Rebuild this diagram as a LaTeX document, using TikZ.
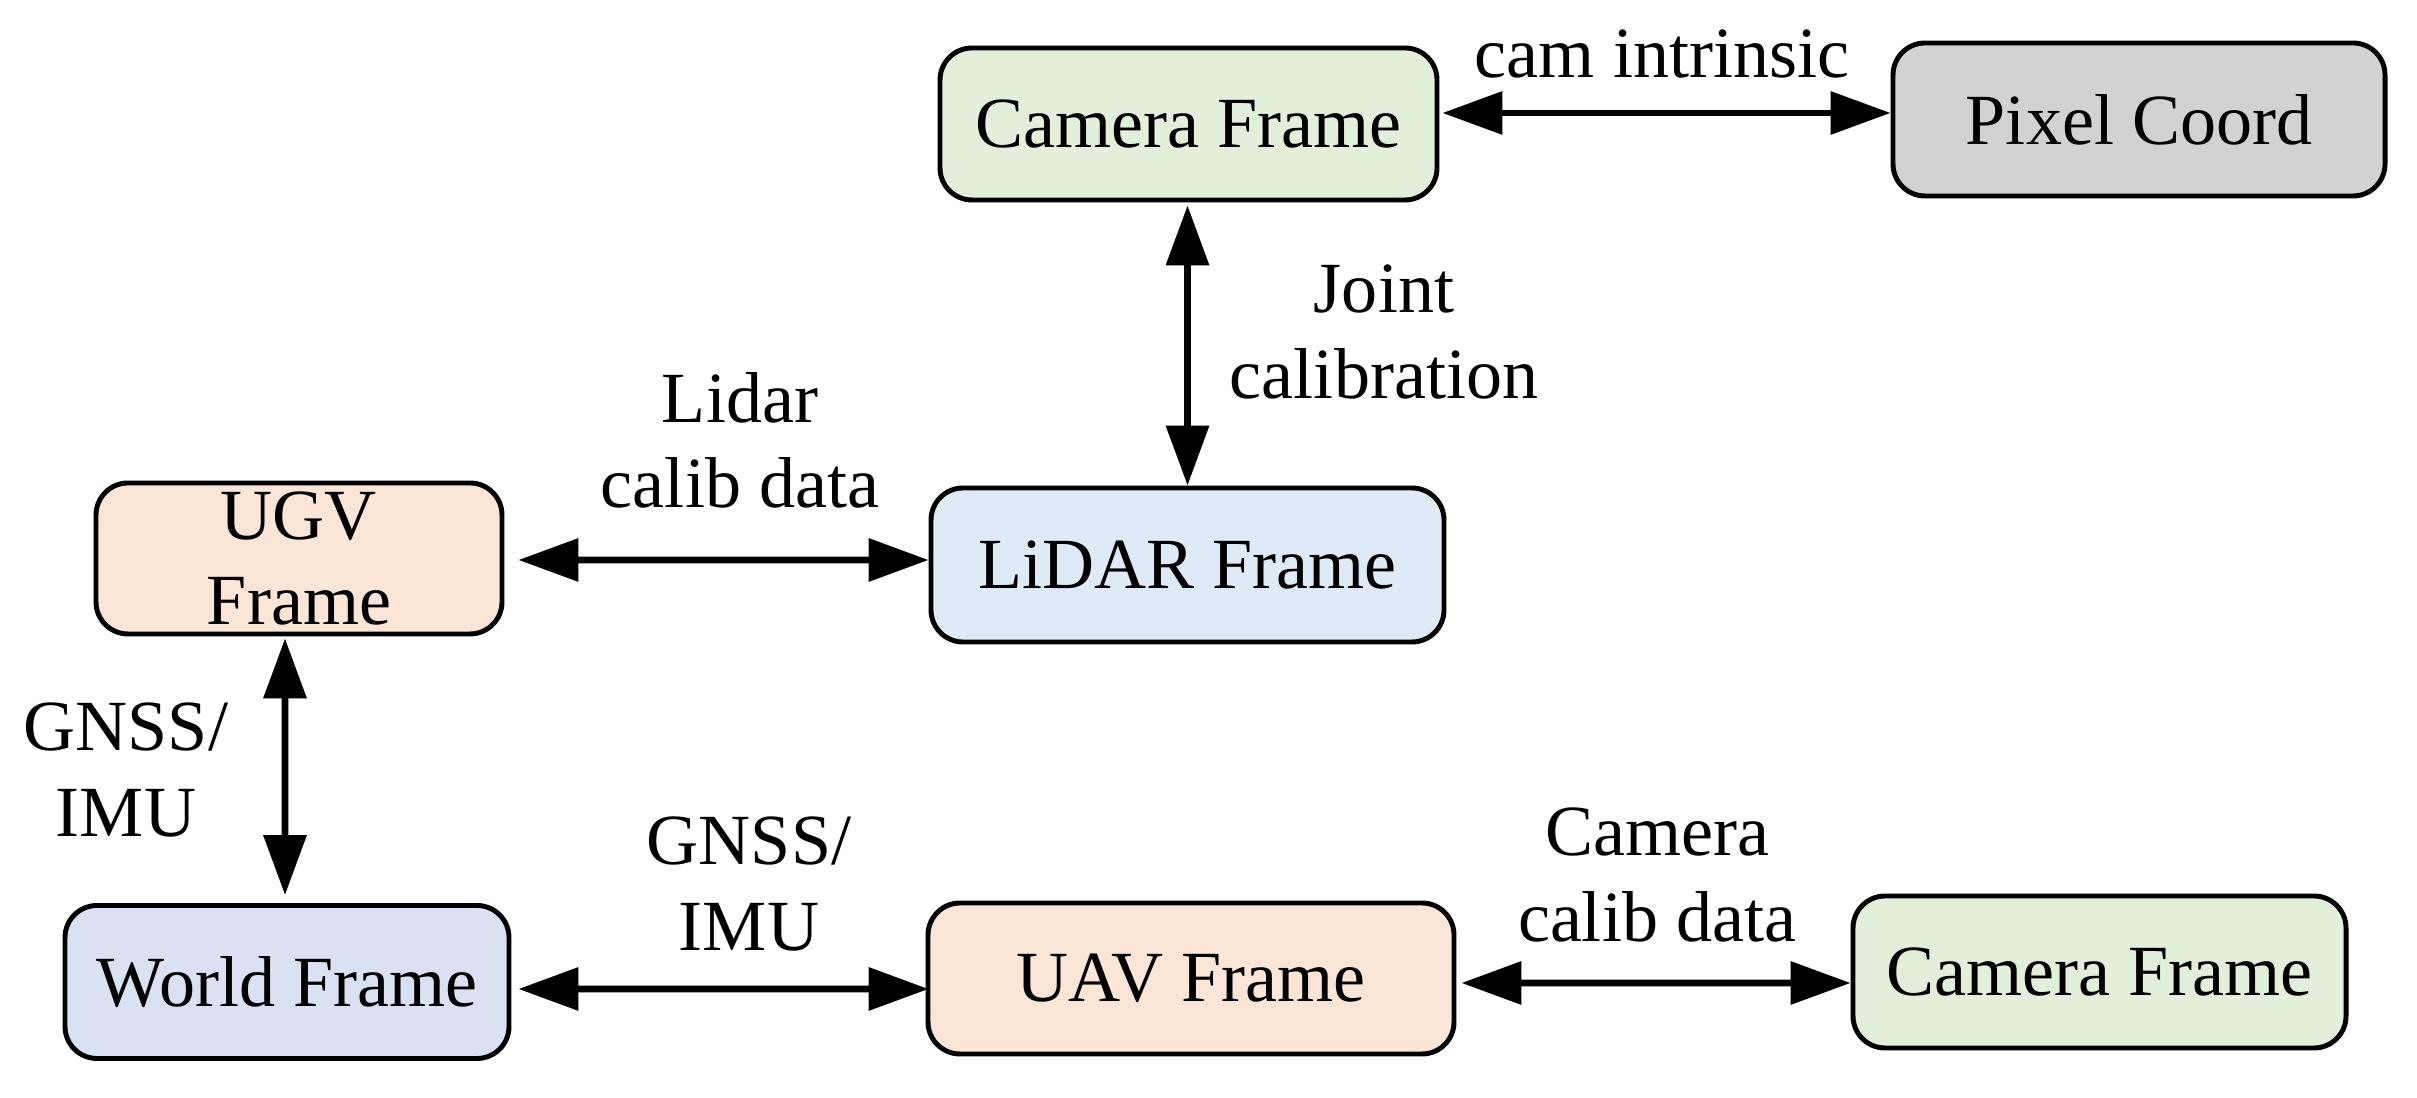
\documentclass[tikz,border=0pt]{standalone}
\usepackage{fontspec}
\setmainfont{Liberation Serif}
\usetikzlibrary{arrows.meta}
\definecolor{cgreen}{HTML}{E2EFDA}
\definecolor{cgray}{HTML}{D2D2D2}
\definecolor{cpeach}{HTML}{FBE5D6}
\definecolor{cblue}{HTML}{DEEBF7}
\definecolor{clav}{HTML}{DAE1F3}
\begin{document}
\begin{tikzpicture}[
  box/.style={draw=black, line width=1.4pt, rounded corners=0.32cm, inner sep=0pt, align=center,
    font=\fontsize{20.5}{24.2}\selectfont},
  lbl/.style={align=center, font=\fontsize{20.5}{24.2}\selectfont},
  link/.style={line width=1.9pt, {Triangle[length=0.6cm,width=0.42cm]}-{Triangle[length=0.6cm,width=0.42cm]}}
]
\useasboundingbox (0,0) rectangle (24.17,10.98);
\node[box, fill=cgreen, minimum width=4.97cm, minimum height=1.52cm] (camt) at (11.885,9.74) {Camera Frame};
\node[box, fill=cgray, minimum width=4.92cm, minimum height=1.53cm] (pix) at (21.39,9.785) {Pixel Coord};
\node[box, fill=cblue, minimum width=5.13cm, minimum height=1.54cm] (lidar) at (11.875,5.33) {LiDAR Frame};
\node[box, fill=cpeach, minimum width=4.06cm, minimum height=1.51cm] (ugv) at (2.99,5.395) {UGV\\Frame};
\node[box, fill=clav, minimum width=4.44cm, minimum height=1.53cm] (world) at (2.87,1.16) {World Frame};
\node[box, fill=cpeach, minimum width=5.26cm, minimum height=1.51cm] (uav) at (11.91,1.195) {UAV Frame};
\node[box, fill=cgreen, minimum width=4.93cm, minimum height=1.52cm] (camb) at (20.995,1.26) {Camera Frame};

\draw[link] ([xshift=0.03cm,yshift=0.11cm]camt.east) -- ([yshift=0.065cm]pix.west);
\draw[link] ([yshift=-0.03cm]camt.south -| lidar.north) -- (lidar.north);
\draw[link] ([xshift=0.14cm,yshift=-0.015cm]ugv.east) -- ([yshift=0.05cm]lidar.west);
\draw[link] ([xshift=-0.14cm,yshift=-0.02cm]ugv.south) -- ([xshift=-0.02cm,yshift=0.08cm]world.north);
\draw[link] ([xshift=0.07cm,yshift=-0.07cm]world.east) -- ([xshift=0.03cm,yshift=-0.105cm]uav.west);
\draw[link] ([xshift=0.05cm,yshift=-0.045cm]uav.east) -- ([yshift=-0.11cm]camb.west);

\node[lbl] (l1) at (16.62,10.44) {cam intrinsic};
\node[lbl] (l2) at (13.84,7.66) {Joint\\calibration};
\node[lbl] (l3) at (7.40,6.58) {Lidar\\calib data};
\node[lbl] (l4) at (1.26,3.28) {GNSS/\\IMU};
\node[lbl] (l5) at (7.49,2.14) {GNSS/\\IMU};
\node[lbl] (l6) at (16.57,2.23) {Camera\\calib data};
\end{tikzpicture}
\end{document}
